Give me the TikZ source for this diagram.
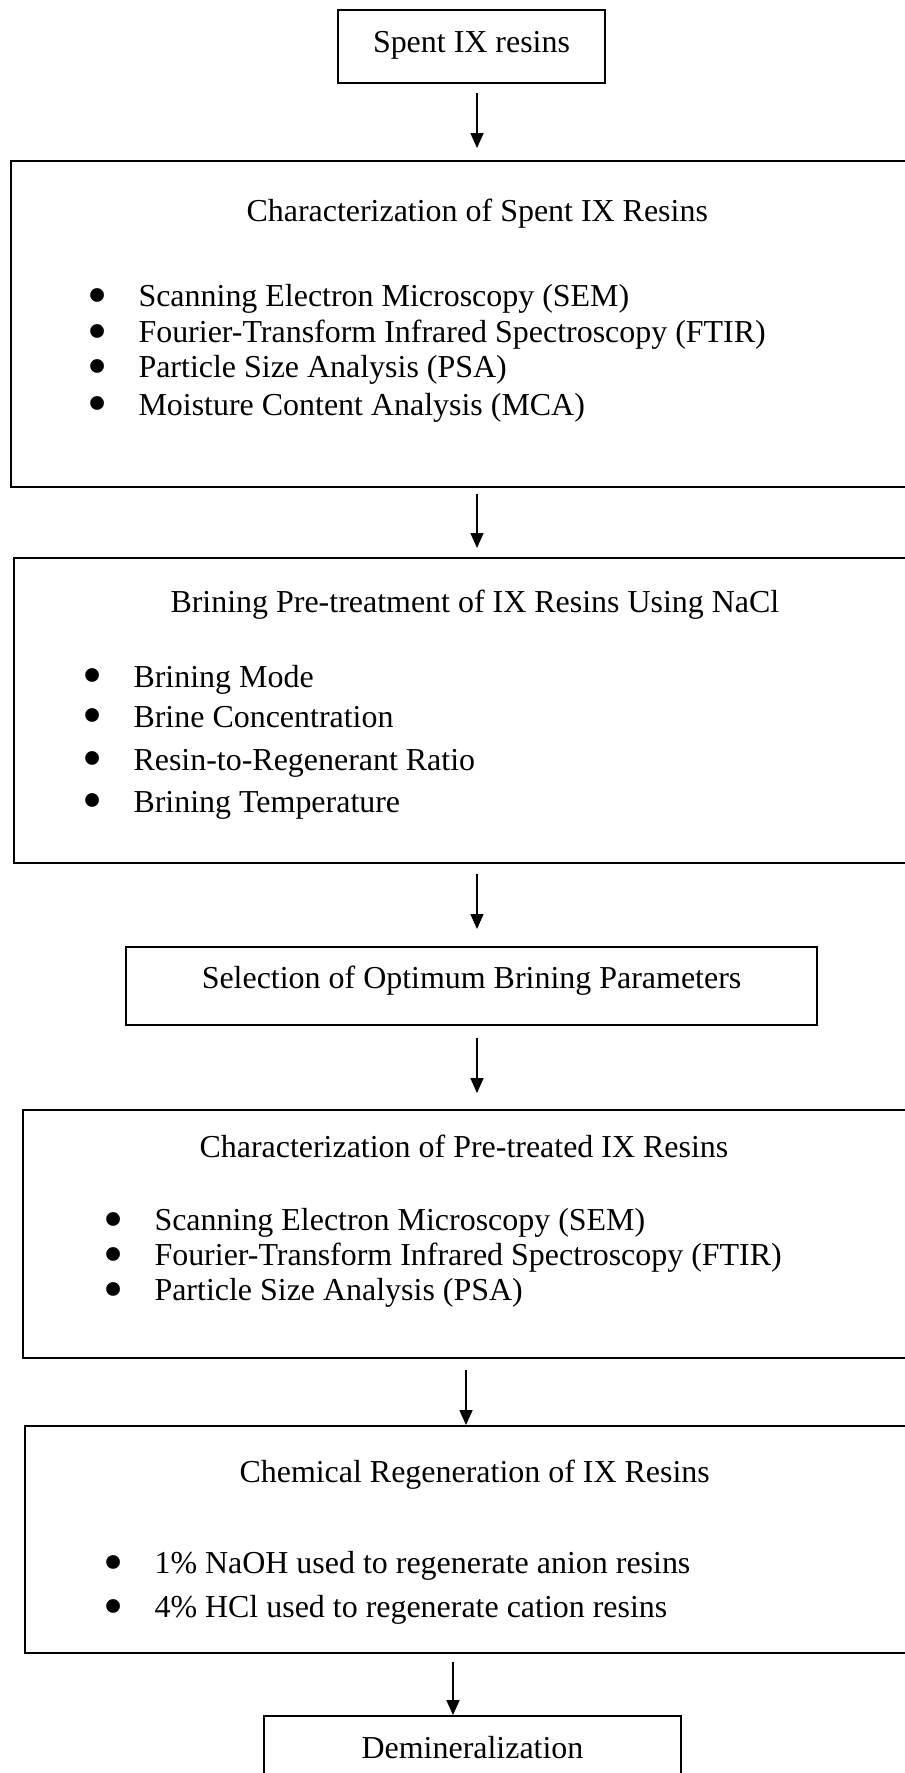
\documentclass[tikz,border=0pt]{standalone}
\usepackage{fontspec}
\setmainfont{Liberation Serif}
\usetikzlibrary{arrows.meta}

\newcommand{\bitem}[1]{\makebox[0pt][c]{\raisebox{-3pt}{\scalebox{1.8}{\textbullet}}}\hspace{15.4pt}#1}

\begin{document}
\begin{tikzpicture}[x=0.3756pt, y=-0.3756pt, >={Triangle[width=4.9pt,length=5.6pt]},
    font=\fontsize{12pt}{14pt}\selectfont,
    box/.style={draw, line width=0.75pt, inner sep=0pt},
    bigbox/.style={box, anchor=north west},
    txt/.style={anchor=base west, inner sep=0pt, text height=9pt, text depth=2.5pt},
    flow/.style={->, line width=0.45pt}]

    \useasboundingbox (0,0) rectangle (905,1773);
    \clip (0,0) rectangle (905,1773);

    %define boxes
    \node[box, anchor=north, minimum width=100.3pt, text height=16.15pt, text depth=11.27pt] (spent) at (471.5,9) {Spent IX resins};
    \node[bigbox, minimum width=354.9pt, minimum height=122.4pt] (charspent) at (10,160) {};
    \node[bigbox, minimum width=353.1pt, minimum height=114.6pt] (brine) at (13,557) {};
    \node[box, anchor=north, minimum width=259.5pt, text height=15.4pt, text depth=13.9pt] (optimum) at (471.5,946) {Selection of Optimum Brining Parameters};
    \node[bigbox, minimum width=347.4pt, minimum height=93.1pt] (charpre) at (22,1109) {};
    \node[bigbox, minimum width=347.4pt, minimum height=85.3pt] (regen) at (24,1425) {};
    \node[box, anchor=north, minimum width=156.6pt, text height=15.8pt, text depth=15pt] (demin) at (472.5,1715) {Demineralization};

    %box contents
    \node[txt] (cs0) at (246,222) {Characterization of Spent IX Resins};
    \node[txt] (cs1) at (97,307) {\bitem{Scanning Electron Microscopy (SEM)}};
    \node[txt] (cs2) at (97,343) {\bitem{Fourier-Transform Infrared Spectroscopy (FTIR)}};
    \node[txt] (cs3) at (97,378) {\bitem{Particle Size Analysis (PSA)}};
    \node[txt] (cs4) at (97,415) {\bitem{Moisture Content Analysis (MCA)}};

    \node[txt] (br0) at (170,612) {Brining Pre-treatment of IX Resins Using NaCl};
    \node[txt] (br1) at (92,687) {\bitem{Brining Mode}};
    \node[txt] (br2) at (92,727) {\bitem{Brine Concentration}};
    \node[txt] (br3) at (92,770) {\bitem{Resin-to-Regenerant Ratio}};
    \node[txt] (br4) at (92,812) {\bitem{Brining Temperature}};

    \node[txt] (cp0) at (199,1157) {Characterization of Pre-treated IX Resins};
    \node[txt] (cp1) at (113,1230) {\bitem{Scanning Electron Microscopy (SEM)}};
    \node[txt] (cp2) at (113,1265) {\bitem{Fourier-Transform Infrared Spectroscopy (FTIR)}};
    \node[txt] (cp3) at (113,1300) {\bitem{Particle Size Analysis (PSA)}};

    \node[txt] (rg0) at (239,1482) {Chemical Regeneration of IX Resins};
    \node[txt] (rg1) at (113,1573) {\bitem{1\% NaOH used to regenerate anion resins}};
    \node[txt] (rg2) at (113,1617) {\bitem{4\% HCl used to regenerate cation resins}};

    %define the links
    \coordinate (c1) at (477,0);
    \coordinate (c2) at (466,0);
    \coordinate (c3) at (453,0);
    \draw[flow, shorten <=3.4pt, shorten >=4.5pt] (spent.south -| c1) -- (charspent.north -| c1);
    \draw[flow, shorten <=2.25pt, shorten >=3.4pt] (charspent.south -| c1) -- (brine.north -| c1);
    \draw[flow, shorten <=3.75pt, shorten >=6.4pt] (brine.south -| c1) -- (optimum.north -| c1);
    \draw[flow, shorten <=4.5pt, shorten >=6pt] (optimum.south -| c1) -- (charpre.north -| c1);
    \draw[flow, shorten <=4.1pt] (charpre.south -| c2) -- (regen.north -| c2);
    \draw[flow, shorten <=3pt] (regen.south -| c3) -- (demin.north -| c3);

\end{tikzpicture}
\end{document}
